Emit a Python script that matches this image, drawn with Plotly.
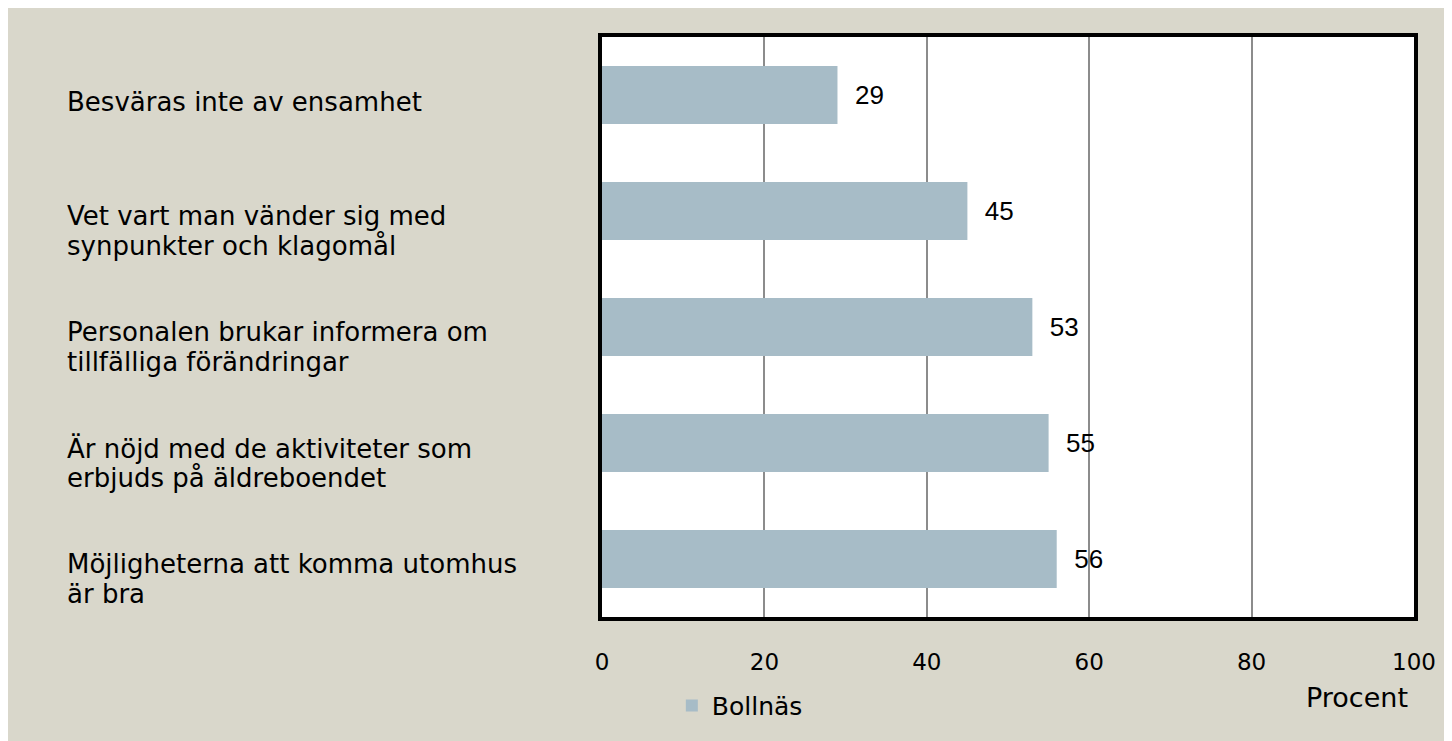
import plotly.graph_objects as go

categories = [
    "Besväras inte av ensamhet",
    "Vet vart man vänder sig med<br>synpunkter och klagomål",
    "Personalen brukar informera om<br>tillfälliga förändringar",
    "Är nöjd med de aktiviteter som<br>erbjuds på äldreboendet",
    "Möjligheterna att komma utomhus<br>är bra",
]
values = [29, 45, 53, 55, 56]
series_name = "Bollnäs"
x_ticks = [0, 20, 40, 60, 80, 100]
x_title = "Procent"

BG = "#D9D7CB"
BAR = "#A7BCC7"
FONT = "DejaVu Sans"

fig = go.Figure()
fig.add_trace(go.Bar(
    y=categories, x=values, orientation="h", name=series_name,
    marker=dict(color=BAR, line=dict(width=0)),
    text=values, texttemplate="  %{x}", textposition="outside",
    textfont=dict(family="Liberation Sans", size=26, color="#000"),
    cliponaxis=False, showlegend=True,
))

for c in categories:
    lines = c.split("<br>")
    shifts = [-7] if len(lines) == 1 else [-5, -35]
    for line, ys in zip(lines, shifts):
        fig.add_annotation(
            x=0, xref="paper", xshift=-537, y=c, yref="y",
            text=line, showarrow=False, xanchor="left", yanchor="middle",
            align="left", yshift=ys,
            font=dict(family=FONT, size=26, color="#000"),
        )

fig.add_annotation(
    x=1, xref="paper", y=0, yref="paper", xanchor="right", yanchor="middle",
    xshift=-4, yshift=-80, text=x_title, showarrow=False,
    font=dict(family=FONT, size=27, color="#000"),
)

fig.update_layout(
    width=1444, height=733,
    paper_bgcolor=BG, plot_bgcolor="#FFFFFF",
    margin=dict(l=594, r=38, t=29, b=124),
    bargap=0.5,
    showlegend=True,
    legend=dict(x=0.086, y=-0.153, xanchor="left", yanchor="middle",
                bgcolor="rgba(0,0,0,0)", itemwidth=30,
                font=dict(family=FONT, size=25, color="#000")),
    xaxis=dict(range=[0, 100], tickvals=x_ticks, showgrid=True,
               gridcolor="#8C8C8C", gridwidth=1.5, zeroline=False,
               showline=True, linecolor="#000", linewidth=4, mirror=True,
               ticks="", ticklabelstandoff=21,
               tickfont=dict(family=FONT, size=23, color="#000")),
    yaxis=dict(autorange="reversed", showticklabels=False, showgrid=False,
               zeroline=False, showline=True, linecolor="#000", linewidth=4,
               mirror=True, ticks=""),
)

fig.write_html("out.html")
